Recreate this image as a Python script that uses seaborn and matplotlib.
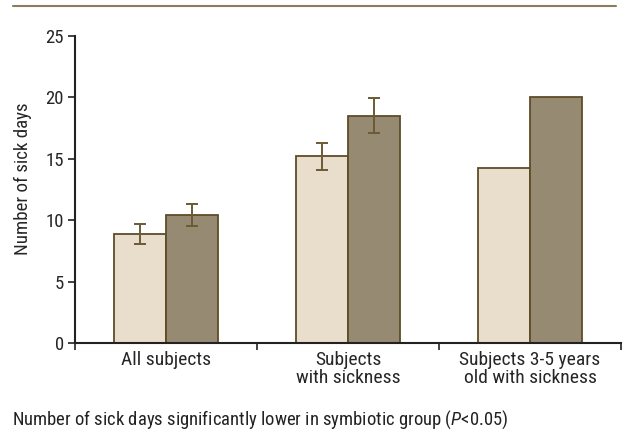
import numpy as np
import matplotlib
matplotlib.use("Agg")
import matplotlib.pyplot as plt
import seaborn as sns
import pandas as pd

# data
GROUPS = ["All subjects", "Subjects\nwith sickness", "Subjects 3-5 years\nold with sickness"]
SERIES = ["Control", "Symbiotic"]
CONTROL = [8.9, 15.2, 14.25]
SYMBIOTIC = [10.4, 18.5, 20.05]
CONTROL_ERR = [0.8, 1.1, np.nan]
SYMBIOTIC_ERR = [0.9, 1.43, np.nan]
YTICKS = [0, 5, 10, 15, 20, 25]

COLOR = {"Control": "#EEDFC6", "Symbiotic": "#9C8C6C"}
EDGE = "#5E4C26"
FONT = ["Roboto Condensed", "DejaVu Sans"]

sns.set_style("white")
plt.rcParams["font.family"] = FONT
plt.rcParams["mathtext.fontset"] = "custom"
plt.rcParams["mathtext.it"] = "Roboto Condensed:italic"
plt.rcParams["mathtext.rm"] = "Roboto Condensed"

df = pd.DataFrame({
    "group": GROUPS * 2,
    "series": ["Control"] * 3 + ["Symbiotic"] * 3,
    "value": CONTROL + SYMBIOTIC,
    "err": CONTROL_ERR + SYMBIOTIC_ERR,
})

fig = plt.figure(figsize=(6.34, 4.46), dpi=100)
ax = fig.add_axes([75 / 634, 1 - 343 / 446, (621 - 75) / 634, (343 - 36) / 446])

sns.barplot(data=df, x="group", y="value", hue="series", hue_order=SERIES,
            palette=COLOR, order=GROUPS, width=0.57, errorbar=None,
            edgecolor=EDGE, linewidth=1.3, legend=False, ax=ax)

# error bars placed on the bars seaborn drew
for cont, s in zip(ax.containers, SERIES):
    sub = df[df["series"] == s].set_index("group").loc[GROUPS]
    for bar, (v, e) in zip(cont, zip(sub["value"], sub["err"])):
        if np.isnan(e):
            continue
        cx = bar.get_x() + bar.get_width() / 2
        ax.errorbar(cx, v, yerr=e, fmt="none", ecolor="#6B5A35",
                    elinewidth=1.4, capsize=4, capthick=1.4, zorder=5)

ax.set_xlim(-0.5, 2.5)
ax.set_ylim(0, 25)
ax.set_yticks(YTICKS)
ax.set_xlabel("")
ax.set_ylabel("Number of sick days", fontsize=13.6)
ax.yaxis.set_label_coords(-0.079, 0.535)
ax.tick_params(axis="y", labelsize=13.5, length=5, width=1.2, color="#222222",
               left=True, pad=3)
ax.tick_params(axis="x", which="major", labelsize=14, length=0, pad=6)
ax.set_xticks([-0.5, 0.5, 1.5, 2.5], minor=True)
ax.tick_params(axis="x", which="minor", length=5, width=1.2, color="#222222",
               bottom=True)
for lab in ax.get_xticklabels():
    lab.set_linespacing(1.0)
ax.spines[["top", "right"]].set_visible(False)
for sp in ["left", "bottom"]:
    ax.spines[sp].set_linewidth(1.5)
    ax.spines[sp].set_color("#222222")

# top rule and footnote
fig.add_artist(plt.Line2D([13 / 634, 616 / 634], [1 - 6 / 446] * 2,
                          color="#8B7D5C", linewidth=1.5))
fig.text(12 / 634, 1 - 420 / 446,
         "Number of sick days significantly lower in symbiotic group ($\\it{P}$<0.05)",
         fontsize=13.4, va="center", ha="left", color="#222222")

fig.savefig("out.png", dpi=100)
